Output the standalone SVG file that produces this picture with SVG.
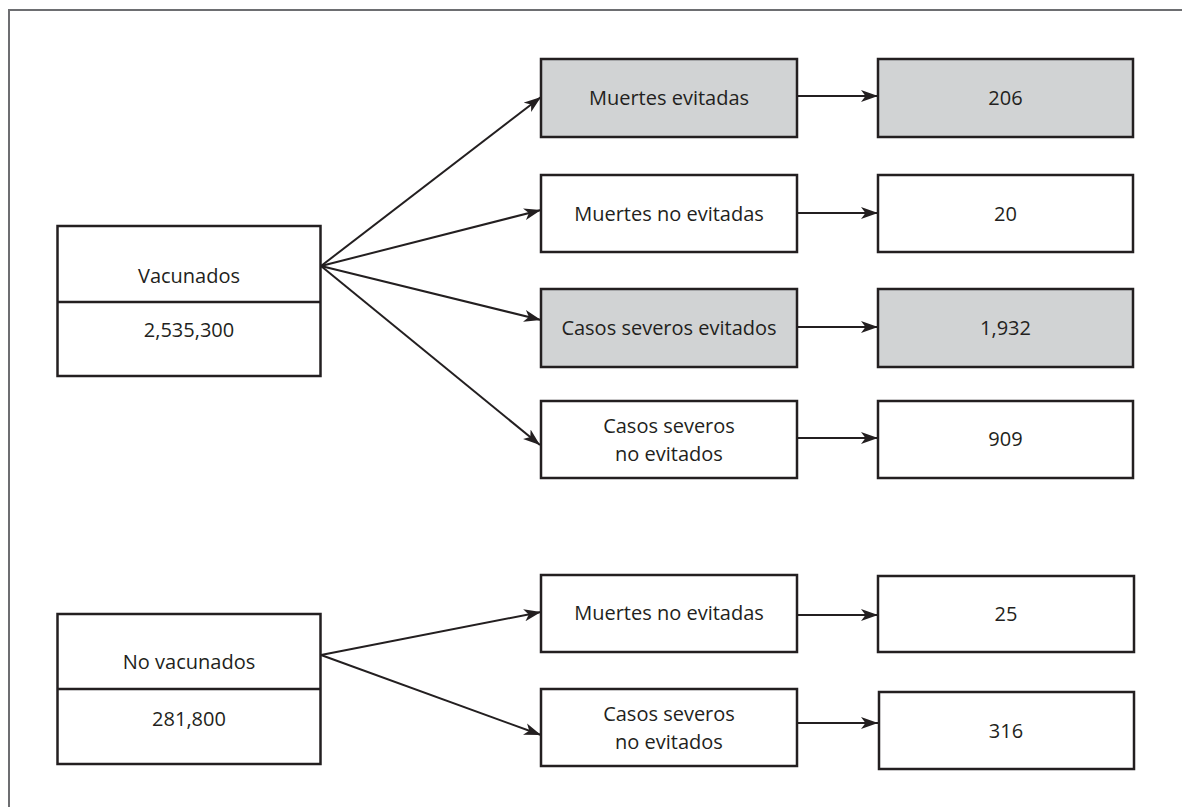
<svg xmlns="http://www.w3.org/2000/svg" width="1182" height="807" viewBox="0 0 1182 807">
<style>
.box{fill:#ffffff;stroke:#231f20;stroke-width:2.5}
.gray{fill:#d1d3d4}
.t{font-family:"Open Sans","Noto Sans",sans-serif;font-size:20px;fill:#231f20;text-anchor:middle}
.c{stroke:#231f20;stroke-width:2;fill:none;marker-end:url(#ah)}
</style>
<defs>
<marker id="ah" markerUnits="userSpaceOnUse" markerWidth="19" markerHeight="14" refX="17" refY="7" orient="auto">
<path d="M0,1 L17,7 L0,13 L4.5,7 Z" fill="#231f20"/>
</marker>
</defs>
<rect width="1182" height="807" fill="#ffffff"/>
<path d="M9,807 L9,10 L1182,10" fill="none" stroke="#6d6e71" stroke-width="2"/>

<g id="connectors">
<line class="c" x1="321" y1="266" x2="541" y2="97"/>
<line class="c" x1="321" y1="266" x2="541" y2="210"/>
<line class="c" x1="321" y1="266" x2="541" y2="320"/>
<line class="c" x1="321" y1="266" x2="540" y2="445"/>
<line class="c" x1="321" y1="655" x2="541" y2="612"/>
<line class="c" x1="321" y1="655" x2="541" y2="735"/>
<line class="c" x1="797" y1="96" x2="878" y2="96"/>
<line class="c" x1="797" y1="213" x2="878" y2="213"/>
<line class="c" x1="797" y1="327" x2="878" y2="327"/>
<line class="c" x1="797" y1="438" x2="878" y2="438"/>
<line class="c" x1="797" y1="615" x2="878" y2="615"/>
<line class="c" x1="797" y1="723" x2="878" y2="723"/>
</g>

<g id="vacunados">
<rect class="box" x="57.5" y="226" width="263" height="150"/>
<line x1="57.5" y1="302" x2="320.5" y2="302" stroke="#231f20" stroke-width="2.5"/>
<text class="t" x="189" y="283">Vacunados</text>
<text class="t" x="189" y="337">2,535,300</text>
</g>

<g id="no-vacunados">
<rect class="box" x="57.5" y="614" width="263" height="150"/>
<line x1="57.5" y1="689" x2="320.5" y2="689" stroke="#231f20" stroke-width="2.5"/>
<text class="t" x="189" y="669">No vacunados</text>
<text class="t" x="189" y="726">281,800</text>
</g>

<g id="muertes-evitadas">
<rect class="box gray" x="541" y="59" width="256" height="78"/>
<text class="t" x="669" y="105">Muertes evitadas</text>
</g>
<g id="v-206">
<rect class="box gray" x="878" y="59" width="255" height="78"/>
<text class="t" x="1005.5" y="105">206</text>
</g>

<g id="muertes-no-evitadas-v">
<rect class="box" x="541" y="175" width="256" height="77"/>
<text class="t" x="669" y="221">Muertes no evitadas</text>
</g>
<g id="v-20">
<rect class="box" x="878" y="175" width="255" height="77"/>
<text class="t" x="1005.5" y="221">20</text>
</g>

<g id="casos-evitados">
<rect class="box gray" x="541" y="289" width="256" height="78"/>
<text class="t" x="669" y="335">Casos severos evitados</text>
</g>
<g id="v-1932">
<rect class="box gray" x="878" y="289" width="255" height="78"/>
<text class="t" x="1005.5" y="335">1,932</text>
</g>

<g id="casos-no-evitados-v">
<rect class="box" x="541" y="401" width="256" height="77"/>
<text class="t" x="669" y="433">Casos severos</text>
<text class="t" x="669" y="461">no evitados</text>
</g>
<g id="v-909">
<rect class="box" x="878" y="401" width="255" height="77"/>
<text class="t" x="1005.5" y="446">909</text>
</g>

<g id="muertes-no-evitadas-nv">
<rect class="box" x="541" y="575" width="256" height="77"/>
<text class="t" x="669" y="620">Muertes no evitadas</text>
</g>
<g id="nv-25">
<rect class="box" x="878" y="576" width="256" height="76"/>
<text class="t" x="1006" y="621">25</text>
</g>

<g id="casos-no-evitados-nv">
<rect class="box" x="541" y="689" width="256" height="77"/>
<text class="t" x="669" y="721">Casos severos</text>
<text class="t" x="669" y="749">no evitados</text>
</g>
<g id="nv-316">
<rect class="box" x="879" y="692" width="255" height="77"/>
<text class="t" x="1006" y="738">316</text>
</g>
</svg>
